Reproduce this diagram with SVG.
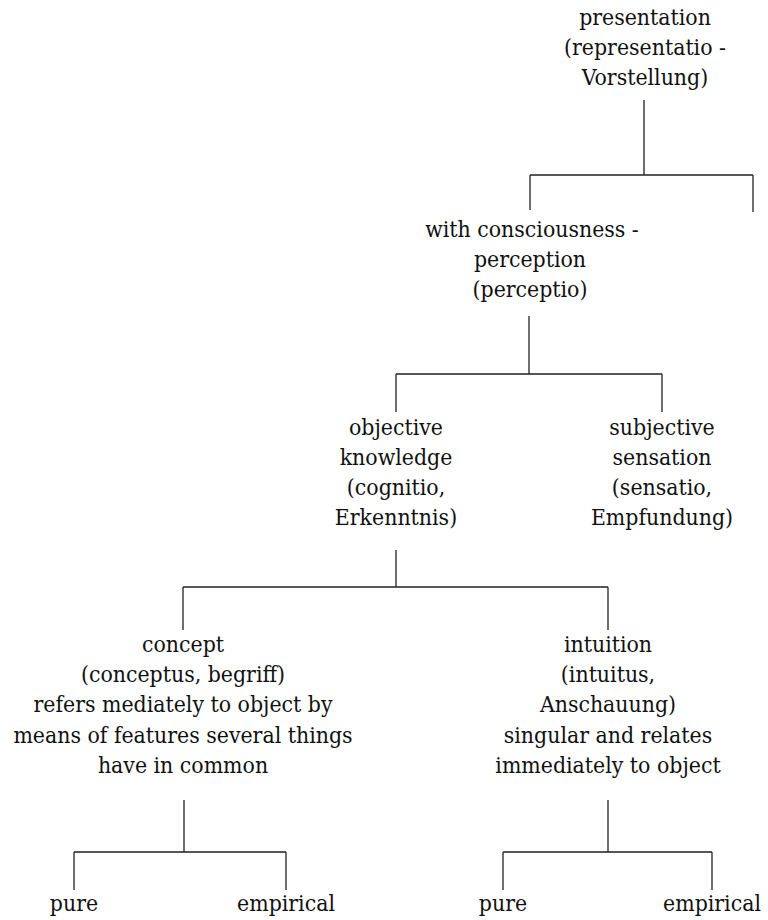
<svg xmlns="http://www.w3.org/2000/svg" width="768" height="920" viewBox="0 0 768 920">
<style>
.c{stroke:#222;stroke-width:1.3;fill:none}
</style>
<rect width="768" height="920" fill="#fff"/>
<g id="connectors">
<path class="c" d="M644,100V175M530,175H753M530,175V210M753,175V212"/>
<path class="c" d="M529,316V374M396,374H662M396,374V412M662,374V412"/>
<path class="c" d="M396,550V587M183,587H608M183,587V630M608,587V630"/>
<path class="c" d="M184,800V852M74,852H286M74,852V890M286,852V890"/>
<path class="c" d="M608,800V852M503,852H712M503,852V890M712,852V890"/>
</g>
<g font-family="'DejaVu Serif Condensed', 'DejaVu Serif', serif" font-stretch="condensed" font-size="22.8" fill="#111" text-anchor="middle">
<g id="presentation"><text x="645" y="25">presentation</text><text x="645" y="55">(representatio -</text><text x="645" y="85">Vorstellung)</text></g>
<g id="perception"><text x="532" y="237">with consciousness -</text><text x="530" y="267">perception</text><text x="530" y="297">(perceptio)</text></g>
<g id="objective"><text x="396" y="435">objective</text><text x="396" y="465">knowledge</text><text x="396" y="495">(cognitio,</text><text x="396" y="525">Erkenntnis)</text></g>
<g id="subjective"><text x="662" y="435">subjective</text><text x="662" y="465">sensation</text><text x="662" y="495">(sensatio,</text><text x="662" y="525">Empfundung)</text></g>
<g id="concept"><text x="183" y="652">concept</text><text x="183" y="682">(conceptus, begriff)</text><text x="183" y="712">refers mediately to object by</text><text x="183" y="743">means of features several things</text><text x="183" y="773">have in common</text></g>
<g id="intuition"><text x="608" y="652">intuition</text><text x="608" y="682">(intuitus,</text><text x="608" y="712">Anschauung)</text><text x="608" y="743">singular and relates</text><text x="608" y="773">immediately to object</text></g>
<g id="pure1"><text x="74" y="911">pure</text></g>
<g id="empirical1"><text x="286" y="911">empirical</text></g>
<g id="pure2"><text x="503" y="911">pure</text></g>
<g id="empirical2"><text x="712" y="911">empirical</text></g>
</g>
</svg>
